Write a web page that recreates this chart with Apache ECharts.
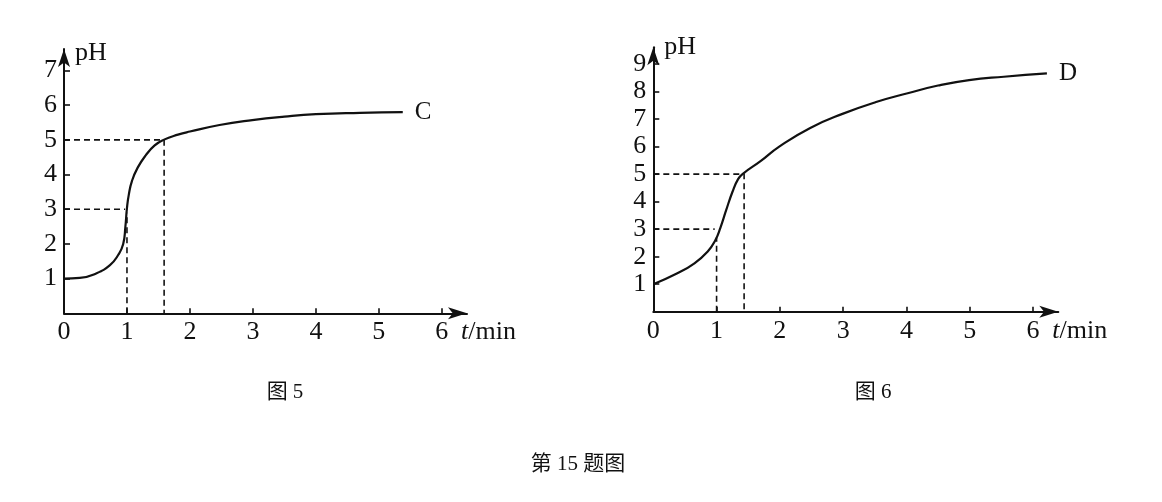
<!DOCTYPE html>
<html>
<head>
<meta charset="utf-8">
<script src="https://cdn.jsdelivr.net/npm/echarts@6/dist/echarts.min.js"></script>
<style>
html,body{margin:0;padding:0;background:#fff;}
#chart{width:1162px;height:502px;}
</style>
</head>
<body>
<div id="chart"></div>
<script>
// ---- data ----
const tC   = [0, 0.25, 0.51, 0.73, 0.86, 0.94, 0.975, 1.0, 1.03, 1.08, 1.17, 1.3, 1.44, 1.58, 1.81, 2.0, 2.47, 2.99, 3.5, 4.0, 4.7, 5.38];
const pHC  = [1, 1.02, 1.15, 1.39, 1.68, 2.0, 2.5, 3.04, 3.43, 3.82, 4.2, 4.56, 4.84, 5.0, 5.15, 5.24, 5.43, 5.57, 5.67, 5.74, 5.78, 5.8];
const tD   = [0, 0.38, 0.65, 0.86, 0.98, 1.06, 1.15, 1.25, 1.34, 1.42, 1.7, 1.99, 2.48, 3.0, 3.52, 4.02, 4.5, 4.99, 5.54, 6.22];
const pHD  = [1, 1.4, 1.76, 2.19, 2.6, 3.05, 3.68, 4.35, 4.82, 5.02, 5.48, 6.0, 6.68, 7.2, 7.62, 7.94, 8.22, 8.42, 8.54, 8.66];
const guidesC = [[[0,5],[1.59,5],[1.59,0]], [[0,3],[0.97,3]], [[1,0],[1,2.9]]];
const guidesD = [[[0,5],[1.435,5],[1.435,0]], [[0,3],[0.97,3]], [[1,0],[1,2.7]]];
const xLabels  = [0, 1, 2, 3, 4, 5, 6];
const xTicks   = [1, 2, 3, 4, 5, 6];
const yLabelsC = [1, 2, 3, 4, 5, 6, 7];
const yLabelsD = [1, 2, 3, 4, 5, 6, 7, 8, 9];
const labelC = 'C';
const labelD = 'D';
const captionC = '图 5';
const captionD = '图 6';
const captionAll = '第 15 题图';

// ---- chart ----
const INK = '#111';
const SERIF = "'Liberation Serif','Times New Roman','Noto Sans CJK SC',serif";
const zip = (a, b) => a.map((v, i) => [v, b[i]]);

function xAxisCfg(gridIndex) {
  return {
    type: 'value', gridIndex: gridIndex, min: 0, max: 6.4,
    axisLine: { show: true, lineStyle: { color: INK, width: 2 }, symbol: ['none', 'arrow'], symbolSize: [9, 19] },
    axisTick: { show: true, inside: true, length: 5, lineStyle: { color: INK, width: 1.6 }, customValues: xTicks },
    axisLabel: { show: true, customValues: xLabels, margin: 6, color: INK, fontFamily: SERIF, fontSize: 26 },
    splitLine: { show: false },
    name: '{it|t}/min', nameLocation: 'end', nameGap: -6,
    nameTextStyle: {
      align: 'left', verticalAlign: 'top', padding: [6, 0, 0, 0],
      color: INK, fontFamily: SERIF, fontSize: 26,
      rich: { it: { fontStyle: 'italic', fontFamily: SERIF, fontSize: 26, color: INK } }
    }
  };
}
function yAxisCfg(gridIndex, max, labels, nameGap) {
  return {
    type: 'value', gridIndex: gridIndex, min: 0, max: max,
    axisLine: { show: true, lineStyle: { color: INK, width: 2 }, symbol: ['none', 'arrow'], symbolSize: [9, 18] },
    axisTick: { show: true, inside: true, length: 6, lineStyle: { color: INK, width: 1.6 }, customValues: labels },
    axisLabel: { show: true, customValues: labels, margin: 7, color: INK, fontFamily: SERIF, fontSize: 26 },
    splitLine: { show: false },
    name: 'pH', nameLocation: 'end', nameGap: nameGap,
    nameTextStyle: { align: 'left', verticalAlign: 'middle', padding: [0, 0, 0, 11], color: INK, fontFamily: SERIF, fontSize: 26 }
  };
}

const series = [];
function curve(xIdx, t, p, label) {
  series.push({
    type: 'line', xAxisIndex: xIdx, yAxisIndex: xIdx,
    data: zip(t, p), smooth: 0.5, symbol: 'none',
    lineStyle: { color: INK, width: 2.2 },
    endLabel: { show: true, formatter: label, distance: 12, color: INK, fontFamily: SERIF, fontSize: 25 },
    z: 3
  });
}
function guides(xIdx, list) {
  list.forEach(g => series.push({
    type: 'line', xAxisIndex: xIdx, yAxisIndex: xIdx, data: g, symbol: 'none', silent: true,
    lineStyle: { color: INK, width: 1.6, type: [6, 4] }, z: 2
  }));
}
curve(0, tC, pHC, labelC);
curve(1, tD, pHD, labelD);
guides(0, guidesC);
guides(1, guidesD);

const chart = echarts.init(document.getElementById('chart'), null, { renderer: 'canvas' });
chart.setOption({
  backgroundColor: '#fff',
  animation: false,
  grid: [
    { left: 64, top: 49, width: 403, height: 264.3 },
    { left: 653.3, top: 47.3, width: 405, height: 264.4 }
  ],
  xAxis: [xAxisCfg(0), xAxisCfg(1)],
  yAxis: [yAxisCfg(0, 7.62, yLabelsC, -4.5), yAxisCfg(1, 9.61, yLabelsD, 0)],
  series: series,
  graphic: [
    { type: 'text', x: 285, y: 392, style: { text: captionC, font: "21px 'Liberation Serif','Noto Sans CJK SC',serif", fill: INK, align: 'center', verticalAlign: 'middle' } },
    { type: 'text', x: 873, y: 392, style: { text: captionD, font: "21px 'Liberation Serif','Noto Sans CJK SC',serif", fill: INK, align: 'center', verticalAlign: 'middle' } },
    { type: 'text', x: 578, y: 464, style: { text: captionAll, font: "21px 'Liberation Serif','Noto Sans CJK SC',serif", fill: INK, align: 'center', verticalAlign: 'middle' } }
  ]
});
</script>
</body>
</html>
